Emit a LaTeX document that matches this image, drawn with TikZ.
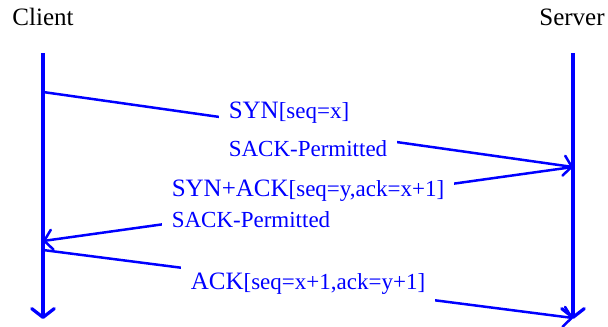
\documentclass[tikz,border=0pt]{standalone}
\usepackage{fontspec}
\setmainfont{Liberation Serif}
\usetikzlibrary{arrows.meta}
\newcommand\smallpart{\fontsize{9.2}{11}\selectfont}
\begin{document}
\begin{tikzpicture}[x=0.4pt,y=-0.4pt,
  hdr/.style={font=\fontsize{10}{12}\selectfont, inner sep=0pt},
  life/.style={draw=blue, line width=1.3pt, -{Straight Barb[length=3.5pt,width=9pt,line cap=round,line join=round]}},
  msg/.style={draw=blue, line width=1pt, -{Straight Barb[length=3.2pt,width=8pt,line cap=round,line join=round]}},
  lbl/.style={fill=white, text=blue, align=left, inner xsep=4pt, inner ysep=3pt, font=\fontsize{10}{12}\selectfont}]
\useasboundingbox (0,0) rectangle (608,327);
\node[hdr] (client) at (43,17) {Client};
\node[hdr] (server) at (572,17) {Server};
\coordinate (ctop) at (43,53);
\coordinate (cbot) at (43,319);
\coordinate (stop) at (573,53);
\coordinate (sbot) at (573,319);
\coordinate (c1) at (43,92);
\coordinate (s1) at (573,167);
\coordinate (c2) at (43,241);
\coordinate (c3) at (43,250);
\coordinate (s3) at (573,318);
\draw[life] (ctop) -- (cbot);
\draw[life] (stop) -- (sbot);
\draw[msg] (c1) -- node[lbl] {SYN{\smallpart[seq=x]}\\[3.2pt]{\smallpart SACK-Permitted}} (s1);
\draw[msg] (s1) -- node[lbl] {SYN+ACK{\smallpart[seq=y,ack=x+1]}\\[0.4pt]{\smallpart SACK-Permitted}} (c2);
\draw[msg] (c3) -- node[lbl] {ACK{\smallpart[seq=x+1,ack=y+1]}} (s3);
\end{tikzpicture}
\end{document}
